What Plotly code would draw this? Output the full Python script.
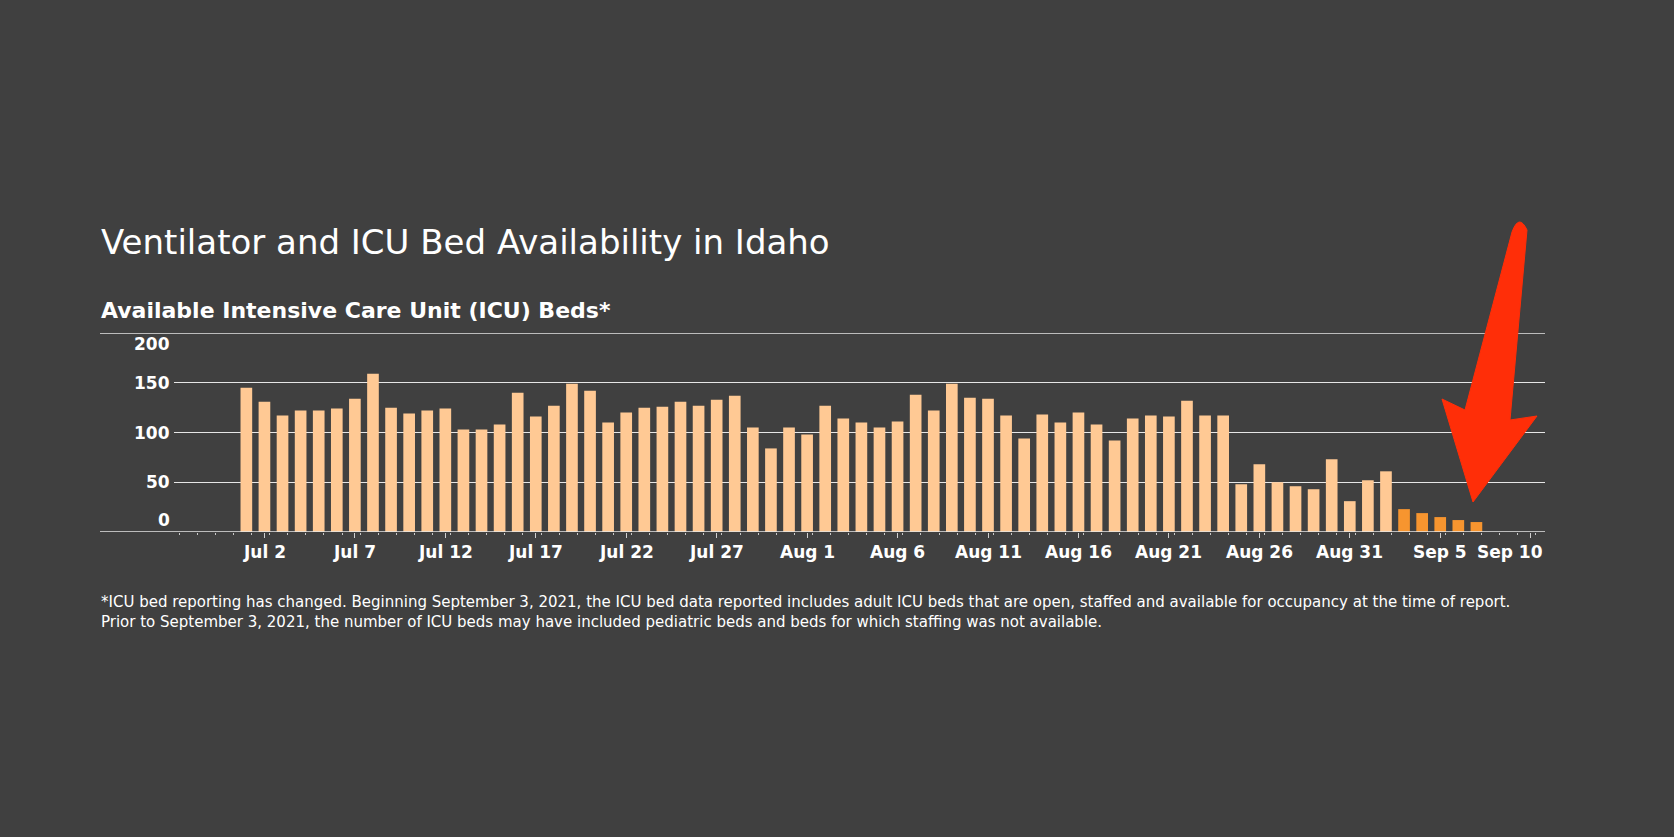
import plotly.graph_objects as go
import pandas as pd

# ---------------- data ----------------
dates_old = [d.strftime("%Y-%m-%d") for d in pd.date_range("2021-07-01", "2021-09-02", freq="D")]
dates_new = [d.strftime("%Y-%m-%d") for d in pd.date_range("2021-09-03", "2021-09-07", freq="D")]

icu_old = [145, 131, 117, 122, 122, 124, 134, 159, 125, 119, 122, 124, 103, 103, 108, 140,
           116, 127, 149, 142, 110, 120, 125, 126, 131, 127, 133, 137, 105, 84, 105,
           98, 127, 114, 110, 105, 111, 138, 122, 149, 135, 134, 117, 94, 118, 110, 120,
           108, 92, 114, 117, 116, 132, 117, 117, 48, 68, 50, 46, 43, 73, 31,
           52, 61]
icu_new = [23, 19, 15, 12, 10]

y_ticks = [0, 50, 100, 150, 200]
x_tick_dates = ["2021-07-02", "2021-07-07", "2021-07-12", "2021-07-17", "2021-07-22",
                "2021-07-27", "2021-08-01", "2021-08-06", "2021-08-11", "2021-08-16",
                "2021-08-21", "2021-08-26", "2021-08-31", "2021-09-05", "2021-09-10"]
x_tick_labels = ["Jul 2", "Jul 7", "Jul 12", "Jul 17", "Jul 22", "Jul 27", "Aug 1", "Aug 6",
                 "Aug 11", "Aug 16", "Aug 21", "Aug 26", "Aug 31", "Sep 5", "Sep 10"]

title_text = "Ventilator and ICU Bed Availability in Idaho"
subtitle_text = "Available Intensive Care Unit (ICU) Beds*"
note_line1 = ("*ICU bed reporting has changed. Beginning September 3, 2021, the ICU bed data reported "
              "includes adult ICU beds that are open, staffed and available for occupancy at the time of report.")
note_line2 = ("Prior to September 3, 2021, the number of ICU beds may have included pediatric beds "
              "and beds for which staffing was not available.")

# ---------------- layout geometry ----------------
W, H = 1674, 837
L, R, T, B = 174, 129, 333, 305
PW = W - L - R
PH = H - T - B
BG = "#404040"
FONT = "Verdana, DejaVu Sans, sans-serif"
DAY = 86400000


def pxx(x):
    return (x - L) / PW


def pxy(y):
    return (H - B - y) / PH


fig = go.Figure()
fig.add_trace(go.Bar(x=dates_old, y=icu_old, width=0.645 * DAY,
                     marker=dict(color="#FFC994", line=dict(width=0)), hoverinfo="x+y"))
fig.add_trace(go.Bar(x=dates_new, y=icu_new, width=0.645 * DAY,
                     marker=dict(color="#F7952F", line=dict(width=0)), hoverinfo="x+y"))

annotations = []
# title / subtitle
annotations.append(dict(text=title_text, xref="paper", yref="paper", x=pxx(99), y=pxy(242),
                        xanchor="left", yanchor="middle", showarrow=False,
                        font=dict(family=FONT, size=34, color="white")))
annotations.append(dict(text=subtitle_text, xref="paper", yref="paper", x=pxx(99), y=pxy(310),
                        xanchor="left", yanchor="middle", showarrow=False,
                        font=dict(family=FONT, size=22, color="white", weight="bold")))
# footnote
annotations.append(dict(text=note_line1, xref="paper", yref="paper", x=pxx(99), y=pxy(602),
                        xanchor="left", yanchor="middle", showarrow=False,
                        font=dict(family=FONT, size=15, color="white")))
annotations.append(dict(text=note_line2, xref="paper", yref="paper", x=pxx(99), y=pxy(622),
                        xanchor="left", yanchor="middle", showarrow=False,
                        font=dict(family=FONT, size=15, color="white")))
# y tick labels (edge labels nudged inward like the original)
y_label_shift = {0: 12, 200: -11}
for v in y_ticks:
    annotations.append(dict(text=str(v), xref="paper", yref="y", x=pxx(172), y=v,
                            xanchor="right", yanchor="middle", showarrow=False,
                            yshift=y_label_shift.get(v, 0),
                            font=dict(family=FONT, size=17, color="white", weight="bold")))
# x tick labels (last one kept inside the plot edge)
for i, (d, lab) in enumerate(zip(x_tick_dates, x_tick_labels)):
    last = i == len(x_tick_dates) - 1
    annotations.append(dict(text=lab, xref="paper" if last else "x", yref="paper",
                            x=1 if last else d, y=0, xanchor="right" if last else "center",
                            yanchor="middle", yshift=-20, showarrow=False,
                            font=dict(family=FONT, size=17, color="white", weight="bold")))

shapes = []
# top line and baseline extended to the left edge
for v in (200, 0):
    shapes.append(dict(type="line", xref="paper", yref="y", x0=pxx(100), x1=1, y0=v, y1=v,
                       line=dict(color="#e6e6e6", width=1.5), layer="above" if v == 0 else "below"))

# red arrow overlay (pixel outline converted to paper units)
arrow_pts = [(1510, 420), (1537, 416), (1473, 502), (1442, 399), (1465, 410)]
path = f"M {pxx(1512)} {pxy(232)} Q {pxx(1519)} {pxy(213)} {pxx(1527)} {pxy(230)} "
path += " ".join(f"L {pxx(a)} {pxy(b)}" for a, b in arrow_pts) + " Z"
shapes.append(dict(type="path", xref="paper", yref="paper", path=path,
                   fillcolor="#FF2E08", line=dict(color="#FF2E08", width=1), layer="above"))

fig.update_layout(
    width=W, height=H,
    margin=dict(l=L, r=R, t=T, b=B, pad=0),
    paper_bgcolor=BG, plot_bgcolor=BG,
    showlegend=False,
    barmode="overlay",
    annotations=annotations,
    shapes=shapes,
    font=dict(family=FONT, color="white"),
    xaxis=dict(
        type="date",
        range=["2021-06-27 00:00", "2021-09-10 19:00"],
        tickvals=x_tick_dates,
        showticklabels=False,
        ticks="outside", ticklen=5, tickwidth=1, tickcolor="#d0d0d0",
        minor=dict(dtick=DAY, tick0="2021-06-27 07:00", ticks="outside", ticklen=2,
                   tickwidth=1, tickcolor="#c8c8c8", showgrid=False),
        showgrid=False, zeroline=False, showline=False,
        fixedrange=True,
    ),
    yaxis=dict(
        range=[0, 200],
        tickvals=y_ticks,
        showticklabels=False,
        showgrid=True, gridcolor="#e6e6e6", gridwidth=1.2,
        zeroline=False, showline=False,
        fixedrange=True,
    ),
)

fig.write_html(
    "out.html",
    config={"displayModeBar": False},
    post_script="document.body.style.margin='0';document.body.style.backgroundColor='#404040';",
)
